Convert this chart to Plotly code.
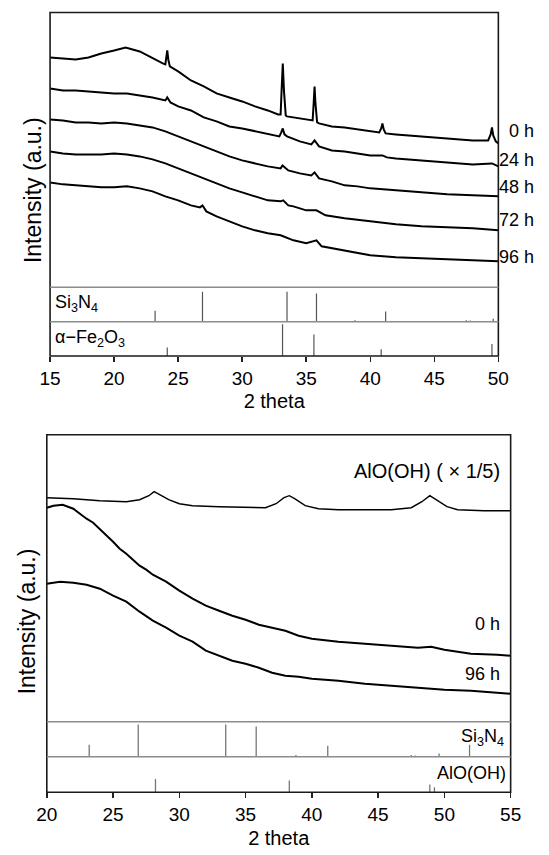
import plotly.graph_objects as go

# ---------------- DATA ----------------
# Top panel (Si3N4 / Fe2O3 sample), 2 theta 15-50, intensities in a.u. (offset-stacked)
tt_0h = [15, 16, 17, 18, 19, 20, 20.9, 22, 23, 23.8, 24.0, 24.07, 24.15, 24.23, 24.35, 25, 26, 27, 28, 29, 30, 31, 32,
         32.8, 33.0, 33.08, 33.17, 33.26, 33.4, 33.5, 34.5, 35.3, 35.5, 35.58, 35.65, 35.72, 35.85, 36.0, 37, 38, 39,
         40, 40.7, 40.85, 40.95, 41.05, 41.2, 42, 43, 44, 45, 46, 47, 48, 49.2, 49.4, 49.5, 49.6, 49.8, 50]
i_0h = [230, 229, 228, 230, 234, 237, 240, 236, 229, 224, 223, 230, 237, 228, 221, 216, 207, 201, 194, 190, 186, 181, 177,
        173, 173, 198, 224, 197, 172, 171, 169, 167, 167, 184, 201, 184, 165, 164, 161, 160, 158,
        156, 155, 159, 164, 158, 154, 153, 152, 151, 150, 149, 148, 147, 147, 153, 160, 152, 146, 144]

tt_24h = [15, 16, 17, 18, 19, 20, 21, 22, 23, 24, 24.15, 24.4, 25, 26, 27, 28, 29, 30, 31, 32, 32.9, 33.05, 33.17, 33.3,
          33.5, 34.5, 35.4, 35.65, 35.9, 36.0, 37, 38, 39, 40, 40.95, 41.3, 42, 44, 46, 48, 49.5, 50]
i_24h = [199, 197, 197, 196, 195, 194, 194, 192, 190, 187, 190, 185, 181, 177, 170, 166, 161, 159, 156, 153, 151, 155, 159, 153,
         151, 146, 143, 147, 142, 141, 137, 136, 134, 132, 132, 130, 129, 127, 125, 123, 124, 121]

tt_48h = [15, 16, 17, 18, 19, 20, 21, 22, 23, 24, 25, 26, 27, 28, 29, 30, 31, 32, 33.0, 33.15, 33.6, 34.5, 35.4, 35.65,
          36, 37, 38, 39, 40, 42, 44, 46, 48, 50]
i_48h = [168, 167, 165, 165, 164, 165, 164, 162, 160, 156, 151, 146, 141, 136, 131, 127, 124, 121, 119, 122, 117, 114, 112, 115,
         109, 106, 102, 101, 99, 97, 95, 93, 92, 91]

tt_72h = [15, 16, 17, 18, 19, 20, 21, 22, 23, 24, 25, 26, 27, 28, 29, 30, 31, 32, 33, 33.2, 33.6, 34, 35, 35.8, 36.5,
          38, 40, 42, 44, 46, 48, 50]
i_72h = [136, 134, 133, 133, 133, 134, 133, 131, 128, 124, 119, 114, 109, 104, 99, 95, 91, 87, 86, 87, 82, 81, 77, 77, 72,
         69, 66, 63, 61, 60, 59, 57]

tt_96h = [15, 16, 17, 18, 19, 20, 21, 22, 23, 24, 25, 26, 26.7, 26.9, 27.2, 28, 29, 30, 31, 32, 33, 34, 35, 35.8, 36.2,
          37, 38, 40, 42, 44, 46, 48, 50]
i_96h = [105, 103, 102, 101, 100, 100, 101, 99, 96, 91, 87, 82, 80, 82, 76, 71, 66, 61, 57, 54, 52, 47, 44, 47, 41,
         39, 37, 32, 30, 29, 28, 27, 26]

# Reference patterns (relative intensities)
si3n4_pos = [23.2, 26.9, 33.5, 35.8, 38.8, 41.2, 47.5, 47.8, 49.6, 51.9]
si3n4_int = [37, 100, 100, 94, 5, 34, 5, 4, 10, 37]
fe2o3_pos = [24.15, 33.15, 35.6, 40.85, 49.5]
fe2o3_int = [27, 100, 68, 21, 38]
aloh_pos = [28.2, 38.3, 48.9, 49.25]
aloh_int = [100, 88, 58, 38]

# Bottom panel (AlO(OH) sample), 2 theta 20-55
tt_ref = [20, 22, 24, 26, 27, 27.7, 28.1, 28.5, 29.2, 30, 31, 33, 35, 36.5, 37.3, 37.9, 38.3, 38.7, 39.5, 40.5,
          42, 44, 46, 47.5, 48.3, 48.9, 49.5, 50.2, 51, 53, 55]
i_ref = [224, 223, 221, 220, 222, 226, 230, 227, 222, 218, 216, 215, 214, 214, 218, 224, 226, 223, 216, 213,
         212, 212, 212, 214, 220, 226, 221, 215, 212, 211, 211]

tt_b0h = [20, 20.5, 21.2, 22, 22.5, 23, 23.5, 24, 24.5, 25, 25.5, 26, 26.5, 27, 27.5, 28, 29, 30, 31, 32, 33, 34, 35,
          36, 37, 38, 39, 40, 42, 44, 46, 48, 49, 50, 51, 52, 54, 55]
i_b0h = [214, 216, 217, 213, 208, 203, 199, 193, 186, 180, 173, 168, 162, 156, 152, 147, 140, 131, 123, 116, 111, 106, 102,
         97, 94, 91, 86, 83, 80, 78, 76, 74, 75, 72, 70, 68, 67, 66]

tt_b96h = [20, 21, 22, 23, 24, 25, 26, 27, 28, 29, 30, 31, 32, 33, 34, 35, 36, 37, 38, 39, 40, 42, 44, 46, 48, 50, 52, 55]
i_b96h = [138, 140, 139, 137, 133, 126, 120, 110, 101, 94, 86, 80, 71, 66, 61, 58, 54, 49, 46, 45, 43, 41, 38, 36, 34, 32, 31, 28]

top_ticks = [15, 20, 25, 30, 35, 40, 45, 50]
bottom_ticks = [20, 25, 30, 35, 40, 45, 50, 55]

# ---------------- LAYOUT HELPERS ----------------
W, H = 549, 855
def fx(px):
    return px / W
def fy(py):
    return 1 - py / H

FONT = "Liberation Sans, Arial, sans-serif"

# pixel geometry
T_L, T_R = 40.7, 507.7
T_TOP, T_S1, T_S2, T_BOT = 12.5, 287.3, 321.7, 356.0
B_L, B_R = 37.3, 520.5
B_TOP, B_S1, B_S2, B_BOT = 434.7, 721.7, 756.7, 792.3


def sticks(pos, inten):
    xs, ys = [], []
    for p, h in zip(pos, inten):
        xs += [p, p, None]
        ys += [0, h, None]
    return xs, ys


fig = go.Figure()

curve_line = dict(color="black", width=2.0)
for xs, ys in [(tt_0h, i_0h), (tt_24h, i_24h), (tt_48h, i_48h), (tt_72h, i_72h), (tt_96h, i_96h)]:
    fig.add_trace(go.Scatter(x=xs, y=ys, mode="lines", line=curve_line, xaxis="x", yaxis="y",
                             showlegend=False, hoverinfo="skip"))

sx, sy = sticks(si3n4_pos, si3n4_int)
fig.add_trace(go.Scatter(x=sx, y=sy, mode="lines", line=dict(color="#555555", width=1.2),
                         xaxis="x", yaxis="y2", showlegend=False, hoverinfo="skip"))
fx_, fy_ = sticks(fe2o3_pos, fe2o3_int)
fig.add_trace(go.Scatter(x=fx_, y=fy_, mode="lines", line=dict(color="#555555", width=1.2),
                         xaxis="x", yaxis="y3", showlegend=False, hoverinfo="skip"))

fig.add_trace(go.Scatter(x=tt_ref, y=i_ref, mode="lines", line=dict(color="black", width=1.4),
                         xaxis="x2", yaxis="y4", showlegend=False, hoverinfo="skip"))
for xs, ys in [(tt_b0h, i_b0h), (tt_b96h, i_b96h)]:
    fig.add_trace(go.Scatter(x=xs, y=ys, mode="lines", line=curve_line, xaxis="x2", yaxis="y4",
                             showlegend=False, hoverinfo="skip"))

sx2, sy2 = sticks(si3n4_pos, si3n4_int)
fig.add_trace(go.Scatter(x=sx2, y=sy2, mode="lines", line=dict(color="#777777", width=1.3),
                         xaxis="x2", yaxis="y5", showlegend=False, hoverinfo="skip"))
ax, ay = sticks(aloh_pos, aloh_int)
fig.add_trace(go.Scatter(x=ax, y=ay, mode="lines", line=dict(color="#777777", width=1.3),
                         xaxis="x2", yaxis="y6", showlegend=False, hoverinfo="skip"))

hidden_y = dict(showticklabels=False, ticks="", showgrid=False, zeroline=False, showline=False, fixedrange=True)

xcommon = dict(ticks="outside", ticklen=5, tickwidth=1.5, tickcolor="#222222", showgrid=False, zeroline=False,
               showline=False, tickfont=dict(family=FONT, size=19, color="black"),
               title=dict(text="2 theta", font=dict(family=FONT, size=20, color="black"), standoff=6))

fig.update_layout(
    width=W, height=H, autosize=False,
    margin=dict(l=0, r=0, t=0, b=0),
    paper_bgcolor="white", plot_bgcolor="white",
    font=dict(family=FONT, color="black"),
    hovermode=False,
    xaxis=dict(domain=[fx(T_L), fx(T_R)], range=[15, 50], anchor="y3", tickvals=top_ticks, **xcommon),
    yaxis=dict(domain=[fy(T_S1), fy(T_TOP)], range=[0, 275], anchor="x", **hidden_y),
    yaxis2=dict(domain=[fy(T_S2), fy(T_S1)], range=[0, 115], anchor="x", **hidden_y),
    yaxis3=dict(domain=[fy(T_BOT), fy(T_S2)], range=[0, 108], anchor="x", **hidden_y),
    xaxis2=dict(domain=[fx(B_L), fx(B_R)], range=[20, 55], anchor="y6", tickvals=bottom_ticks, **xcommon),
    yaxis4=dict(domain=[fy(B_S1), fy(B_TOP)], range=[0, 287], anchor="x2", **hidden_y),
    yaxis5=dict(domain=[fy(B_S2), fy(B_S1)], range=[0, 109], anchor="x2", **hidden_y),
    yaxis6=dict(domain=[fy(B_BOT), fy(B_S2)], range=[0, 268], anchor="x2", **hidden_y),
)

shapes = []
frame = dict(color="#1a1a1a", width=1.6)
sep = dict(color="#8c8c8c", width=1.5)
shapes.append(dict(type="rect", xref="paper", yref="paper", x0=fx(T_L), x1=fx(T_R), y0=fy(T_BOT), y1=fy(T_TOP), line=frame))
for s in (T_S1, T_S2):
    shapes.append(dict(type="line", xref="paper", yref="paper", x0=fx(T_L), x1=fx(T_R), y0=fy(s), y1=fy(s), line=sep))
shapes.append(dict(type="rect", xref="paper", yref="paper", x0=fx(B_L), x1=fx(B_R), y0=fy(B_BOT), y1=fy(B_TOP), line=frame))
for s in (B_S1, B_S2):
    shapes.append(dict(type="line", xref="paper", yref="paper", x0=fx(B_L), x1=fx(B_R), y0=fy(s), y1=fy(s), line=sep))
fig.update_layout(shapes=shapes)

ann = []
def label(text, x, y, xanchor="left", size=18, angle=0):
    ann.append(dict(text=text, x=fx(x), y=fy(y), xref="paper", yref="paper", xanchor=xanchor, yanchor="middle",
                    showarrow=False, textangle=angle, font=dict(family=FONT, size=size, color="black")))

# top panel labels
for t, y in [("0 h", 131), ("24 h", 159.5), ("48 h", 186.7), ("72 h", 220), ("96 h", 256.7)]:
    label(t, 547, y, xanchor="right", size=18)
label("Si<sub>3</sub>N<sub>4</sub>", 44, 303, size=18)
label("α−Fe<sub>2</sub>O<sub>3</sub>", 44, 338, size=18)
label("Intensity (a.u.)", 23, 190, xanchor="center", size=23, angle=-90)

# bottom panel labels
label("AlO(OH) ( × 1/5)", 511, 470.5, xanchor="right", size=20)
label("0 h", 511, 624, xanchor="right", size=18)
label("96 h", 511, 674, xanchor="right", size=18)
label("Si<sub>3</sub>N<sub>4</sub>", 516, 737, xanchor="right", size=18)
label("AlO(OH)", 518, 772.5, xanchor="right", size=18)
label("Intensity (a.u.)", 17, 621, xanchor="center", size=23, angle=-90)

fig.update_layout(annotations=ann)

fig.write_html("out.html", config={"displayModeBar": False, "staticPlot": True},
               post_script="document.body.style.margin='0px';")
